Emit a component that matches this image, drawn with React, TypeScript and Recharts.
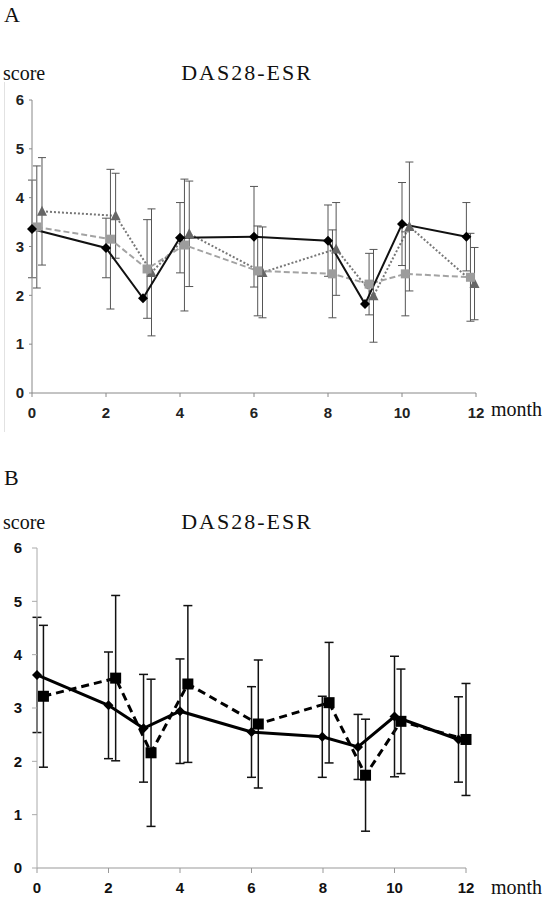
import { ComposedChart, ErrorBar, Line, XAxis, YAxis } from "recharts";

const monthTicks = [0, 2, 4, 6, 8, 10, 12];
const scoreTicks = [0, 1, 2, 3, 4, 5, 6];

// panel A: three groups, each point nudged a little to the right
const aDiamondX = [0, 2, 3, 4, 6, 8, 9, 10, 11.74];
const aDiamondY = [3.36, 2.97, 1.94, 3.18, 3.2, 3.12, 1.82, 3.46, 3.2];
const aDiamondErr = [1.0, 0.61, null, 0.72, 1.03, 0.73, null, 0.85, 0.7];

const aSquareX = [0.13, 2.12, 3.11, 4.12, 6.1, 8.12, 9.11, 10.09, 11.85];
const aSquareY = [3.4, 3.15, 2.54, 3.03, 2.5, 2.44, 2.23, 2.44, 2.37];
const aSquareErr = [1.25, 1.43, 1.01, 1.35, 0.92, 0.9, 0.63, 0.86, 0.9];

const aTriangleX = [0.27, 2.26, 3.23, 4.25, 6.23, 8.22, 9.23, 10.2, 11.96];
const aTriangleY = [3.72, 3.63, 2.47, 3.26, 2.47, 2.95, 1.99, 3.41, 2.24];
const aTriangleErr = [1.1, 0.87, 1.3, 1.08, 0.93, 0.95, 0.95, 1.32, 0.74];

// panel B: two groups
const bDiamondX = [0, 2, 2.98, 4, 6, 7.98, 8.98, 10, 11.79];
const bDiamondY = [3.62, 3.05, 2.62, 2.94, 2.55, 2.46, 2.27, 2.84, 2.41];
const bDiamondErr = [1.08, 1.0, 1.01, 0.98, 0.85, 0.76, 0.61, 1.13, 0.8];

const bSquareX = [0.18, 2.2, 3.19, 4.22, 6.19, 8.17, 9.19, 10.18, 12];
const bSquareY = [3.22, 3.56, 2.16, 3.45, 2.7, 3.1, 1.74, 2.75, 2.41];
const bSquareErr = [1.33, 1.55, 1.38, 1.47, 1.2, 1.13, 1.05, 0.98, 1.05];

const toRows = (xs: number[], ys: number[], errs: (number | null)[]) =>
  xs.map((x, i) => ({ x, y: ys[i], err: errs[i] }));

const serif = "'Liberation Serif', 'Times New Roman', serif";

const diamond = (r: number, fill: string) => (p: any) => {
  const { cx, cy, index } = p;
  if (cx == null || cy == null) return <g key={index} />;
  return (
    <path
      key={index}
      d={`M${cx},${cy - r}L${cx + r},${cy}L${cx},${cy + r}L${cx - r},${cy}Z`}
      fill={fill}
    />
  );
};

const square = (s: number, fill: string) => (p: any) => {
  const { cx, cy, index } = p;
  if (cx == null || cy == null) return <g key={index} />;
  return <rect key={index} x={cx - s / 2} y={cy - s / 2} width={s} height={s} fill={fill} />;
};

const triangle = (s: number, fill: string) => (p: any) => {
  const { cx, cy, index } = p;
  if (cx == null || cy == null) return <g key={index} />;
  const h = s * 0.9;
  return (
    <path
      key={index}
      d={`M${cx},${cy - h / 2 - 1}L${cx + s / 2},${cy + h / 2}L${cx - s / 2},${cy + h / 2}Z`}
      fill={fill}
    />
  );
};

const PanelA = () => {
  const tick = { fill: "#222", fontSize: 15, fontWeight: 700, fontFamily: "'Liberation Sans', Arial, sans-serif" };
  return (
    <ComposedChart width={551} height={450} margin={{ top: 100, right: 75, left: 7, bottom: 27 }}>
      <XAxis
        type="number"
        dataKey="x"
        domain={[0, 12]}
        ticks={monthTicks}
        interval={0}
        height={30}
        tickSize={4}
        tickMargin={10}
        axisLine={{ stroke: "#888" }}
        tickLine={{ stroke: "#888" }}
        tick={tick}
      />
      <YAxis
        type="number"
        domain={[0, 6]}
        ticks={scoreTicks}
        interval={0}
        width={25}
        tickSize={3}
        tickMargin={5}
        axisLine={{ stroke: "#888" }}
        tickLine={{ stroke: "#888" }}
        tick={tick}
      />
      <Line
        data={toRows(aTriangleX, aTriangleY, aTriangleErr)}
        dataKey="y"
        stroke="#777"
        strokeWidth={2}
        strokeDasharray="2 2"
        dot={triangle(10, "#666")}
        activeDot={false}
        isAnimationActive={false}
      >
        <ErrorBar dataKey="err" direction="y" width={4} stroke="#555" strokeWidth={1} />
      </Line>
      <Line
        data={toRows(aSquareX, aSquareY, aSquareErr)}
        dataKey="y"
        stroke="#a3a3a3"
        strokeWidth={2}
        strokeDasharray="6 3"
        dot={square(9, "#9c9c9c")}
        activeDot={false}
        isAnimationActive={false}
      >
        <ErrorBar dataKey="err" direction="y" width={4} stroke="#555" strokeWidth={1} />
      </Line>
      <Line
        data={toRows(aDiamondX, aDiamondY, aDiamondErr)}
        dataKey="y"
        stroke="#111"
        strokeWidth={2}
        dot={diamond(5, "#000")}
        activeDot={false}
        isAnimationActive={false}
      >
        <ErrorBar dataKey="err" direction="y" width={4} stroke="#555" strokeWidth={1} />
      </Line>
    </ComposedChart>
  );
};

const PanelB = () => {
  const tick = { fill: "#111", fontSize: 15, fontWeight: 700, fontFamily: "'Liberation Sans', Arial, sans-serif" };
  return (
    <ComposedChart width={551} height={451} margin={{ top: 98, right: 85, left: 7, bottom: 3 }}>
      <XAxis
        type="number"
        dataKey="x"
        domain={[0, 12]}
        ticks={monthTicks}
        interval={0}
        height={30}
        tickSize={5}
        tickMargin={9}
        axisLine={{ stroke: "#999" }}
        tickLine={{ stroke: "#999" }}
        tick={tick}
      />
      <YAxis
        type="number"
        domain={[0, 6]}
        ticks={scoreTicks}
        interval={0}
        width={30}
        tickSize={5}
        tickMargin={10}
        axisLine={{ stroke: "#aaa" }}
        tickLine={{ stroke: "#aaa" }}
        tick={tick}
      />
      <Line
        data={toRows(bSquareX, bSquareY, bSquareErr)}
        dataKey="y"
        stroke="#000"
        strokeWidth={3}
        strokeDasharray="8 5"
        dot={square(11, "#000")}
        activeDot={false}
        isAnimationActive={false}
      >
        <ErrorBar dataKey="err" direction="y" width={4.5} stroke="#111" strokeWidth={1.5} />
      </Line>
      <Line
        data={toRows(bDiamondX, bDiamondY, bDiamondErr)}
        dataKey="y"
        stroke="#000"
        strokeWidth={3}
        dot={diamond(5, "#000")}
        activeDot={false}
        isAnimationActive={false}
      >
        <ErrorBar dataKey="err" direction="y" width={4.5} stroke="#111" strokeWidth={1.5} />
      </Line>
    </ComposedChart>
  );
};

export default function App() {
  return (
    <div style={{ position: "absolute", left: 0, top: 0, width: 551, height: 901, background: "#fff" }}>
      <div style={{ position: "absolute", left: 4, top: 82, width: 1, height: 350, background: "#e2e2e2" }} />
      <div style={{ position: "absolute", left: 0, top: 0 }}>
        <PanelA />
      </div>
      <div style={{ position: "absolute", left: 0, top: 450 }}>
        <PanelB />
      </div>
      <svg
        width={551}
        height={901}
        style={{ position: "absolute", left: 0, top: 0, pointerEvents: "none" }}
        fontFamily={serif}
        fill="#111"
      >
        <text x={4} y={22} fontSize={22}>A</text>
        <text x={3} y={80} fontSize={20}>score</text>
        <text x={247} y={80} fontSize={22} textAnchor="middle" letterSpacing={2}>DAS28-ESR</text>
        <text x={491} y={416} fontSize={20}>month</text>
        <text x={4} y={485} fontSize={22}>B</text>
        <text x={3} y={529} fontSize={20}>score</text>
        <text x={247} y={529} fontSize={22} textAnchor="middle" letterSpacing={2}>DAS28-ESR</text>
        <text x={491} y={894} fontSize={20}>month</text>
      </svg>
    </div>
  );
}
